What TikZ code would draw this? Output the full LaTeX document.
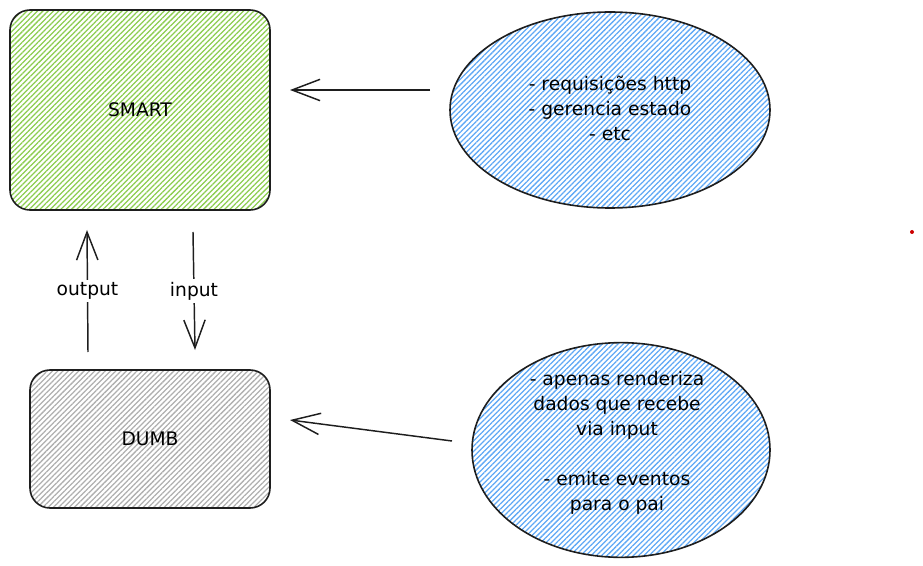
\documentclass[tikz,border=0pt]{standalone}
\usepackage{fontspec}
\setmainfont{DejaVu Sans}
\usetikzlibrary{shapes.geometric,patterns.meta,arrows.meta}
\definecolor{ink}{HTML}{1E1E1E}
\definecolor{hgreen}{RGB}{140,205,80}
\definecolor{hblue}{RGB}{95,168,245}
\definecolor{hgray}{RGB}{175,175,175}
\tikzset{
  hatch/.style={pattern={Lines[angle=45,distance=2.8pt,line width=0.95pt]},pattern color=#1},
  boxnode/.style={draw=ink,line width=1.2pt,rounded corners=15pt,inner sep=0pt,font=\fontsize{14}{16}\selectfont},
  bubble/.style={draw=ink,line width=1.2pt,ellipse,inner sep=0pt},
  bubbletext/.style={align=center,font=\fontsize{14}{18.75}\selectfont,inner sep=0pt},
  arr/.style={draw=ink,line width=1.1pt,-{Straight Barb[length=21pt,width=16pt,line width=1.1pt]}},
  arrlabel/.style={fill=white,inner sep=2pt,font=\fontsize{14}{16}\selectfont}
}
\begin{document}
\begin{tikzpicture}[x=0.75pt,y=-0.75pt]
\useasboundingbox (0,0) rectangle (923,566);
% boxes
\node[boxnode,hatch=hgreen,minimum width=195pt,minimum height=150pt] (smart) at (140,110) {SMART};
\node[boxnode,hatch=hgray,minimum width=180pt,minimum height=103.5pt] (dumb) at (150,439) {DUMB};
% ellipses
\node[bubble,hatch=hblue,minimum width=240pt,minimum height=147pt] (ell1) at (610,110) {};
\node[bubbletext] (t1) at (610,108) {- requisições http\\- gerencia estado\\- etc};
\node[bubble,hatch=hblue,minimum width=223.5pt,minimum height=161pt] (ell2) at (621,450) {};
\node[bubbletext] (t2) at (617,443) {- apenas renderiza\\dados que recebe\\via input\\[18.75pt]- emite eventos\\para o pai};
% arrow end points
\coordinate (a1s) at (430,90);
\coordinate (a1e) at (290,90);
\coordinate (a2s) at (452,441);
\coordinate (a2e) at (290,420);
\coordinate (os) at (88,352);
\coordinate (oe) at (87,230);
\coordinate (is) at (193,232);
\coordinate (ie) at (195,350);
% arrows
\draw[arr] (a1s) -- (a1e);
\draw[arr] (a2s) -- (a2e);
\draw[arr] (os) -- node[arrlabel] (lout) {output} (oe);
\draw[arr] (is) -- node[arrlabel] (lin) {input} (ie);
% small red dot
\fill[red!80!black] (912,232) circle (1.5pt);
\end{tikzpicture}
\end{document}
